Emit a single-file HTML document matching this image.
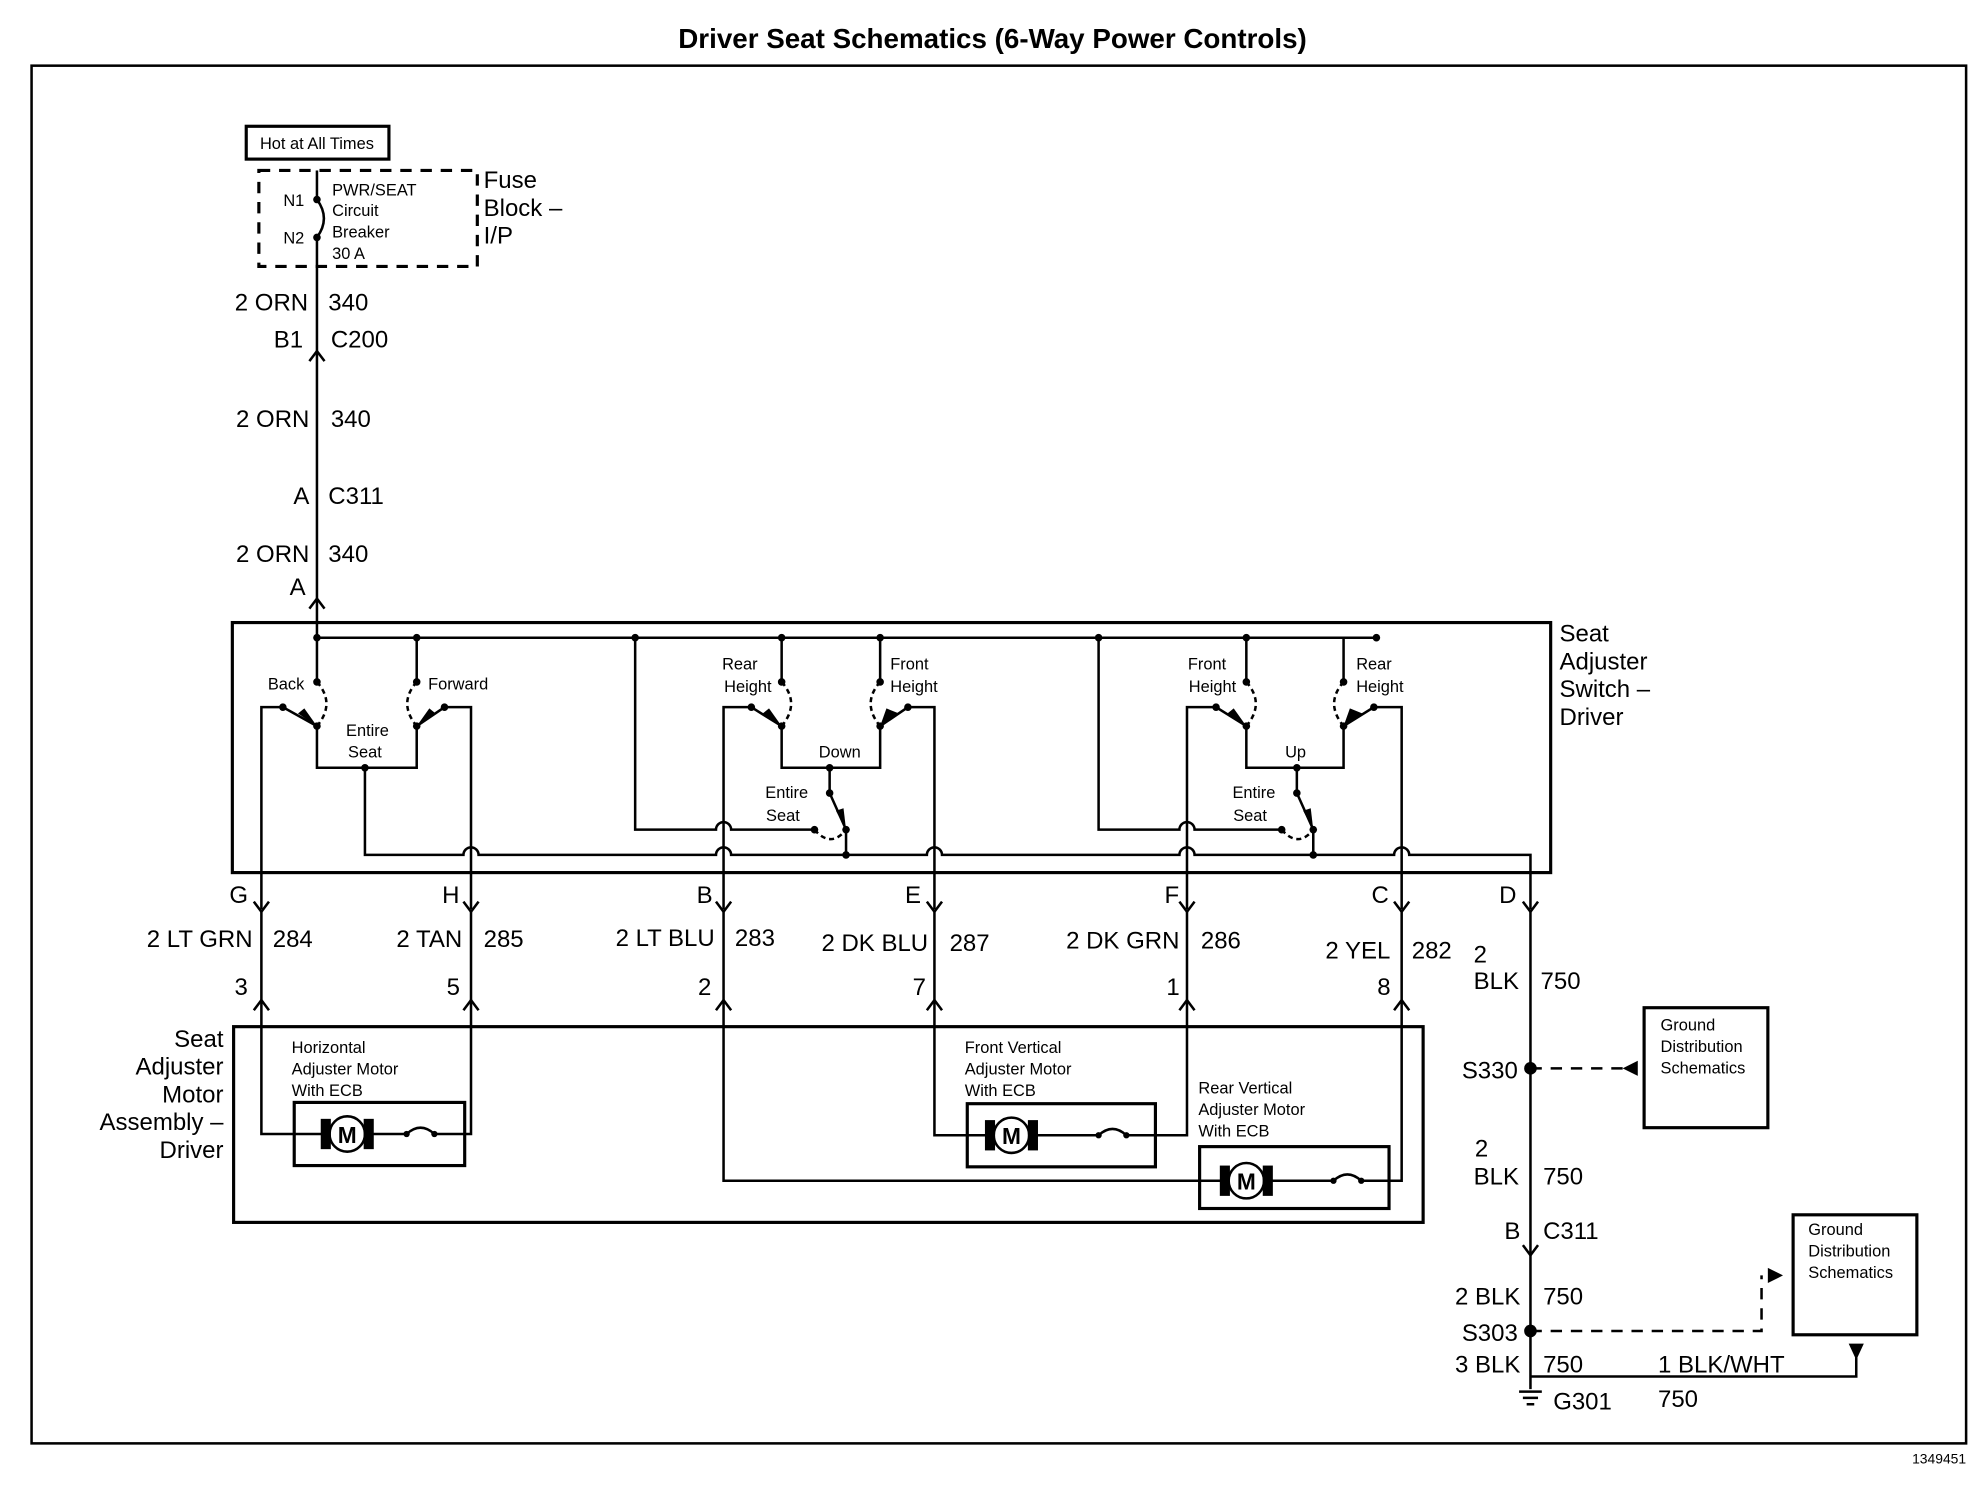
<!DOCTYPE html>
<html><head><meta charset="utf-8"><style>
html,body{margin:0;padding:0;background:#fff;}
svg{display:block;}
text{font-family:"Liberation Sans",Arial,sans-serif;fill:#000;}
.l{font-size:19px;}
.s{font-size:13px;}
</style></head><body>
<svg width="1980" height="1504" viewBox="0 0 1568 1191" preserveAspectRatio="none" xmlns="http://www.w3.org/2000/svg">
<g stroke="#000" stroke-width="2" fill="none">
<rect x="25" y="52" width="1532" height="1091"/>
<!-- fuse -->
<rect x="195" y="100" width="113" height="26" stroke-width="2.5"/>
<rect x="205" y="135" width="173" height="76" stroke-dasharray="9,7" stroke-width="2.5"/>
<line x1="251" y1="135" x2="251" y2="158"/>
<path d="M251 158 Q262 173 251 188"/>
<line x1="251" y1="188" x2="251" y2="505"/>
<path d="M245 286 L251 278 L257 286 M245 482 L251 474 L257 482"/>
<!-- switch box -->
<rect x="184" y="493" width="1044" height="198" stroke-width="2.5"/>
<line x1="251" y1="505" x2="1090" y2="505"/>
<!-- section1 -->
<line x1="251" y1="505" x2="251" y2="540"/><line x1="330" y1="505" x2="330" y2="540"/>
<path d="M251 540 Q266 557 251 575 M330 540 Q315 557 330 575" stroke-dasharray="4,3"/>
<path d="M251 575 V608 H330 V575"/>
<path d="M207 720 V560 H224 L251 575"/>
<path d="M373 720 V560 H352 L330 575"/>
<path d="M289 608 V677 H367 A6 6 0 0 1 379 677 H567 A6 6 0 0 1 579 677 H734 A6 6 0 0 1 746 677 H934 A6 6 0 0 1 946 677 H1104 A6 6 0 0 1 1116 677 H1212 V720"/>
<!-- section2 -->
<path d="M503 505 V657 H567 A6 6 0 0 1 579 657 H645"/>
<path d="M645 657 Q658 672 670 657" stroke-dasharray="4,3"/>
<path d="M670 657 V677 M657 608 V628 L670 657"/>
<line x1="619" y1="505" x2="619" y2="540"/><line x1="697" y1="505" x2="697" y2="540"/>
<path d="M619 540 Q634 557 619 575 M697 540 Q682 557 697 575" stroke-dasharray="4,3"/>
<path d="M619 575 V608 H697 V575"/>
<path d="M573 720 V560 H595 L619 575"/>
<path d="M740 720 V560 H719 L697 575"/>
<!-- section3 -->
<path d="M870 505 V657 H934 A6 6 0 0 1 946 657 H1015"/>
<path d="M1015 657 Q1028 672 1040 657" stroke-dasharray="4,3"/>
<path d="M1040 657 V677 M1027 608 V628 L1040 657"/>
<line x1="987" y1="505" x2="987" y2="540"/><line x1="1064" y1="505" x2="1064" y2="540"/>
<path d="M987 540 Q1002 557 987 575 M1064 540 Q1049 557 1064 575" stroke-dasharray="4,3"/>
<path d="M987 575 V608 H1064 V575"/>
<path d="M940 720 V560 H963 L987 575"/>
<path d="M1110 720 V560 H1088 L1064 575"/>
<!-- connector chevrons -->
<path d="M201 714 L207 722 L213 714 M367 714 L373 722 L379 714 M567 714 L573 722 L579 714 M734 714 L740 722 L746 714 M934 714 L940 722 L946 714 M1104 714 L1110 722 L1116 714 M1206 714 L1212 722 L1218 714"/>
<path d="M201 800 L207 792 L213 800 M367 800 L373 792 L379 800 M567 800 L573 792 L579 800 M734 800 L740 792 L746 800 M934 800 L940 792 L946 800 M1104 800 L1110 792 L1116 800"/>
<path d="M207 722 V792 M373 722 V792 M573 722 V792 M740 722 V792 M940 722 V792 M1110 722 V792"/>
<!-- motor box -->
<rect x="185" y="813" width="942" height="155" stroke-width="2.5"/>
<path d="M207 792 V898 H261 M289 898 H322 M322 898 Q333 888 344 898 M344 898 H373 V792"/>
<rect x="233" y="873" width="135" height="50" stroke-width="2.5"/>
<path d="M740 792 V899 H787 M815 899 H870 M870 899 Q881 889 892 899 M892 899 H940 V792"/>
<rect x="766" y="874" width="149" height="50" stroke-width="2.5"/>
<path d="M573 792 V935 H973 M1001 935 H1056 M1056 935 Q1067 925 1078 935 M1078 935 H1110 V792"/>
<rect x="950" y="908" width="150" height="49" stroke-width="2.5"/>
<circle cx="275" cy="898" r="14" stroke-width="2"/>
<circle cx="801" cy="899" r="14" stroke-width="2"/>
<circle cx="987" cy="935" r="14" stroke-width="2"/>
<!-- ground side -->
<line x1="1212" y1="722" x2="1212" y2="1100"/>
<path d="M1206 986 L1212 994 L1218 986"/>
<path d="M1212 846 H1285" stroke-dasharray="9,7"/>
<rect x="1302" y="798" width="98" height="95" stroke-width="2.5"/>
<path d="M1212 1054 H1395 V1010" stroke-dasharray="9,7"/>
<rect x="1420" y="962" width="98" height="95" stroke-width="2.5"/>
<path d="M1212 1090 H1470 V1075"/>
<path d="M1203 1102 H1221 M1206 1107 H1218 M1209 1112 H1215"/>
</g>
<g fill="#000">
<circle cx="251" cy="158" r="3"/><circle cx="251" cy="188" r="3"/>
<circle cx="251" cy="505" r="3"/><circle cx="330" cy="505" r="3"/><circle cx="503" cy="505" r="3"/><circle cx="619" cy="505" r="3"/><circle cx="697" cy="505" r="3"/><circle cx="870" cy="505" r="3"/><circle cx="987" cy="505" r="3"/><circle cx="1090" cy="505" r="3"/>
<circle cx="251" cy="540" r="3"/><circle cx="330" cy="540" r="3"/><circle cx="251" cy="575" r="3"/><circle cx="330" cy="575" r="3"/><circle cx="224" cy="560" r="3"/><circle cx="352" cy="560" r="3"/><circle cx="289" cy="608" r="3"/>
<circle cx="619" cy="540" r="3"/><circle cx="697" cy="540" r="3"/><circle cx="619" cy="575" r="3"/><circle cx="697" cy="575" r="3"/><circle cx="595" cy="560" r="3"/><circle cx="719" cy="560" r="3"/><circle cx="657" cy="608" r="3"/><circle cx="657" cy="628" r="3"/><circle cx="645" cy="657" r="3"/><circle cx="670" cy="657" r="3"/><circle cx="670" cy="677" r="3"/>
<circle cx="987" cy="540" r="3"/><circle cx="1064" cy="540" r="3"/><circle cx="987" cy="575" r="3"/><circle cx="1064" cy="575" r="3"/><circle cx="963" cy="560" r="3"/><circle cx="1088" cy="560" r="3"/><circle cx="1027" cy="608" r="3"/><circle cx="1027" cy="628" r="3"/><circle cx="1015" cy="657" r="3"/><circle cx="1040" cy="657" r="3"/><circle cx="1040" cy="677" r="3"/>
<circle cx="322" cy="898" r="2.5"/><circle cx="344" cy="898" r="2.5"/><circle cx="870" cy="899" r="2.5"/><circle cx="892" cy="899" r="2.5"/><circle cx="1056" cy="935" r="2.5"/><circle cx="1078" cy="935" r="2.5"/>
<rect x="254" y="886" width="8" height="24"/><rect x="288" y="886" width="8" height="24"/>
<rect x="780" y="887" width="8" height="24"/><rect x="814" y="887" width="8" height="24"/>
<rect x="966" y="923" width="8" height="24"/><rect x="1000" y="923" width="8" height="24"/>
<circle cx="1212" cy="846" r="5"/><circle cx="1212" cy="1054" r="5"/>
<path d="M1285 840 L1297 846 L1285 852 Z" transform="rotate(180 1291 846)"/>
<path d="M1400 1004 L1412 1010 L1400 1016 Z"/>
<path d="M1464 1064 H1476 L1470 1077 Z"/>
<path d="M236 565 L251 575 L241 561 Z"/><path d="M345 565 L330 575 L340 561 Z"/>
<path d="M604 565 L619 575 L609 561 Z"/><path d="M712 565 L697 575 L702 561 Z"/>
<path d="M972 565 L987 575 L977 561 Z"/><path d="M1079 565 L1064 575 L1069 561 Z"/>
<path d="M662 642 L670 657 L668 640 Z"/><path d="M1032 642 L1040 657 L1038 640 Z"/>
</g>
<text x="786" y="38" text-anchor="middle" style="font-size:22px;font-weight:bold">Driver Seat Schematics (6-Way Power Controls)</text>
<text x="1557" y="1159" text-anchor="end" class="s" style="font-size:11px">1349451</text>
<text x="251" y="118" text-anchor="middle" class="s">Hot at All Times</text>
<text x="241" y="163" text-anchor="end" class="s">N1</text>
<text x="241" y="193" text-anchor="end" class="s">N2</text>
<text x="263" y="155" class="s">PWR/SEAT</text><text x="263" y="171" class="s">Circuit</text><text x="263" y="188" class="s">Breaker</text><text x="263" y="205" class="s">30 A</text>
<text x="383" y="149" class="l">Fuse</text><text x="383" y="171" class="l">Block –</text><text x="383" y="193" class="l">I/P</text>
<g class="l">
<text x="244" y="246" text-anchor="end" class="l">2 ORN</text><text x="260" y="246" class="l">340</text>
<text x="240" y="275" text-anchor="end" class="l">B1</text><text x="262" y="275" class="l">C200</text>
<text x="245" y="338" text-anchor="end" class="l">2 ORN</text><text x="262" y="338" class="l">340</text>
<text x="245" y="399" text-anchor="end" class="l">A</text><text x="260" y="399" class="l">C311</text>
<text x="245" y="445" text-anchor="end" class="l">2 ORN</text><text x="260" y="445" class="l">340</text>
<text x="242" y="471" text-anchor="end" class="l">A</text>
<text x="1235" y="508" class="l">Seat</text><text x="1235" y="530" class="l">Adjuster</text><text x="1235" y="552" class="l">Switch –</text><text x="1235" y="574" class="l">Driver</text>
<text x="189" y="715" text-anchor="middle" class="l">G</text><text x="357" y="715" text-anchor="middle" class="l">H</text><text x="558" y="715" text-anchor="middle" class="l">B</text><text x="723" y="715" text-anchor="middle" class="l">E</text><text x="928" y="715" text-anchor="middle" class="l">F</text><text x="1093" y="715" text-anchor="middle" class="l">C</text><text x="1194" y="715" text-anchor="middle" class="l">D</text>
<text x="200" y="750" text-anchor="end" class="l">2 LT GRN</text><text x="216" y="750" class="l">284</text>
<text x="366" y="750" text-anchor="end" class="l">2 TAN</text><text x="383" y="750" class="l">285</text>
<text x="566" y="749" text-anchor="end" class="l">2 LT BLU</text><text x="582" y="749" class="l">283</text>
<text x="735" y="753" text-anchor="end" class="l">2 DK BLU</text><text x="752" y="753" class="l">287</text>
<text x="934" y="751" text-anchor="end" class="l">2 DK GRN</text><text x="951" y="751" class="l">286</text>
<text x="1101" y="759" text-anchor="end" class="l">2 YEL</text><text x="1118" y="759" class="l">282</text>
<text x="1167" y="762" class="l">2</text><text x="1167" y="783" class="l">BLK</text><text x="1220" y="783" class="l">750</text>
<text x="191" y="788" text-anchor="middle" class="l">3</text><text x="359" y="788" text-anchor="middle" class="l">5</text><text x="558" y="788" text-anchor="middle" class="l">2</text><text x="728" y="788" text-anchor="middle" class="l">7</text><text x="929" y="788" text-anchor="middle" class="l">1</text><text x="1096" y="788" text-anchor="middle" class="l">8</text>
<text x="177" y="829" text-anchor="end" class="l">Seat</text><text x="177" y="851" text-anchor="end" class="l">Adjuster</text><text x="177" y="873" text-anchor="end" class="l">Motor</text><text x="177" y="895" text-anchor="end" class="l">Assembly –</text><text x="177" y="917" text-anchor="end" class="l">Driver</text>
<text x="1202" y="854" text-anchor="end" class="l">S330</text>
<text x="1168" y="916" class="l">2</text><text x="1167" y="938" class="l">BLK</text><text x="1222" y="938" class="l">750</text>
<text x="1204" y="981" text-anchor="end" class="l">B</text><text x="1222" y="981" class="l">C311</text>
<text x="1204" y="1033" text-anchor="end" class="l">2 BLK</text><text x="1222" y="1033" class="l">750</text>
<text x="1202" y="1062" text-anchor="end" class="l">S303</text>
<text x="1204" y="1087" text-anchor="end" class="l">3 BLK</text><text x="1222" y="1087" class="l">750</text>
<text x="1313" y="1087" class="l">1 BLK/WHT</text>
<text x="1313" y="1114" class="l">750</text>
<text x="1230" y="1116" class="l">G301</text>
</g>
<g class="s">
<text x="241" y="546" text-anchor="end" class="s">Back</text><text x="339" y="546" class="s">Forward</text>
<text x="291" y="583" text-anchor="middle" class="s">Entire</text><text x="289" y="600" text-anchor="middle" class="s">Seat</text>
<text x="600" y="530" text-anchor="end" class="s">Rear</text><text x="611" y="548" text-anchor="end" class="s">Height</text>
<text x="705" y="530" class="s">Front</text><text x="705" y="548" class="s">Height</text>
<text x="665" y="600" text-anchor="middle" class="s">Down</text>
<text x="623" y="632" text-anchor="middle" class="s">Entire</text><text x="620" y="650" text-anchor="middle" class="s">Seat</text>
<text x="971" y="530" text-anchor="end" class="s">Front</text><text x="979" y="548" text-anchor="end" class="s">Height</text>
<text x="1074" y="530" class="s">Rear</text><text x="1074" y="548" class="s">Height</text>
<text x="1026" y="600" text-anchor="middle" class="s">Up</text>
<text x="993" y="632" text-anchor="middle" class="s">Entire</text><text x="990" y="650" text-anchor="middle" class="s">Seat</text>
<text x="231" y="834" class="s">Horizontal</text><text x="231" y="851" class="s">Adjuster Motor</text><text x="231" y="868" class="s">With ECB</text>
<text x="764" y="834" class="s">Front Vertical</text><text x="764" y="851" class="s">Adjuster Motor</text><text x="764" y="868" class="s">With ECB</text>
<text x="949" y="866" class="s">Rear Vertical</text><text x="949" y="883" class="s">Adjuster Motor</text><text x="949" y="900" class="s">With ECB</text>
<text x="1315" y="816" class="s">Ground</text><text x="1315" y="833" class="s">Distribution</text><text x="1315" y="850" class="s">Schematics</text>
<text x="1432" y="978" class="s">Ground</text><text x="1432" y="995" class="s">Distribution</text><text x="1432" y="1012" class="s">Schematics</text>
</g>
<text x="275" y="905" text-anchor="middle" style="font-size:18px;font-weight:bold">M</text>
<text x="801" y="906" text-anchor="middle" style="font-size:18px;font-weight:bold">M</text>
<text x="987" y="942" text-anchor="middle" style="font-size:18px;font-weight:bold">M</text>
</svg>
</body></html>
